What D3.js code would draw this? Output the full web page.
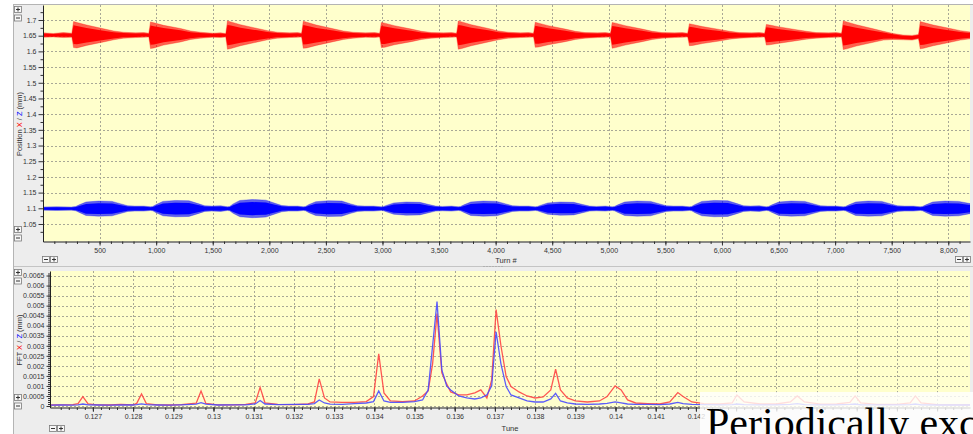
<!DOCTYPE html>
<html><head><meta charset="utf-8">
<script src="https://cdn.jsdelivr.net/npm/d3@7"></script>
<style>
html,body{margin:0;padding:0;background:#fff;}
svg{display:block;font-family:"Liberation Sans",Arial,sans-serif;}
</style></head><body>
<svg id="c" width="973" height="434"></svg>
<script>
// ---- Turn-by-turn position, envelope of the oscillation: [turn, upper, lower] (mm)
const posX = [
 [0,1.659,1.645],[90,1.657,1.646],[180,1.660,1.644],[255,1.658,1.645],
 [270,1.695,1.612],[300,1.692,1.611],[385,1.684,1.619],[535,1.672,1.630],[625,1.665,1.637],[710,1.661,1.642],[820,1.659,1.644],[890,1.660,1.645],[935,1.658,1.646],
 [950,1.694,1.609],[980,1.691,1.611],[1065,1.683,1.620],[1215,1.673,1.630],[1305,1.665,1.638],[1390,1.661,1.642],[1500,1.658,1.645],[1570,1.659,1.644],[1615,1.657,1.646],
 [1630,1.697,1.607],[1660,1.694,1.609],[1745,1.685,1.618],[1895,1.673,1.630],[1985,1.666,1.637],[2070,1.661,1.642],[2180,1.659,1.644],[2250,1.660,1.645],[2285,1.658,1.646],
 [2300,1.696,1.610],[2330,1.693,1.611],[2415,1.684,1.619],[2565,1.672,1.631],[2655,1.665,1.638],[2740,1.661,1.642],[2850,1.659,1.645],[2930,1.660,1.644],[2975,1.658,1.646],
 [2990,1.692,1.612],[3020,1.690,1.613],[3105,1.682,1.621],[3255,1.671,1.631],[3345,1.664,1.638],[3430,1.660,1.642],[3540,1.659,1.644],[3610,1.660,1.645],[3655,1.658,1.646],
 [3670,1.697,1.607],[3700,1.694,1.609],[3785,1.685,1.618],[3935,1.673,1.630],[4025,1.665,1.637],[4110,1.661,1.642],[4220,1.659,1.644],[4290,1.660,1.645],[4335,1.658,1.646],
 [4350,1.693,1.613],[4380,1.690,1.614],[4465,1.682,1.621],[4615,1.671,1.631],[4705,1.664,1.638],[4790,1.660,1.642],[4900,1.659,1.644],[4970,1.660,1.645],[5015,1.658,1.646],
 [5030,1.692,1.610],[5060,1.690,1.612],[5145,1.682,1.620],[5295,1.671,1.631],[5385,1.664,1.638],[5470,1.660,1.642],[5580,1.659,1.644],[5650,1.660,1.645],[5697,1.658,1.646],
 [5712,1.688,1.618],[5742,1.686,1.619],[5827,1.679,1.625],[5977,1.670,1.633],[6067,1.664,1.639],[6152,1.660,1.642],[6262,1.659,1.644],[6330,1.660,1.645],[6377,1.658,1.646],
 [6392,1.686,1.620],[6422,1.684,1.621],[6507,1.678,1.626],[6657,1.669,1.634],[6747,1.664,1.639],[6832,1.660,1.642],[6942,1.659,1.644],[7010,1.660,1.645],[7057,1.658,1.646],
 [7072,1.697,1.606],[7102,1.694,1.608],[7187,1.685,1.617],[7337,1.672,1.629],[7427,1.664,1.636],[7512,1.657,1.638],[7600,1.652,1.637],[7680,1.651,1.636],[7737,1.654,1.640],
 [7752,1.695,1.608],[7782,1.692,1.610],[7867,1.684,1.618],[8017,1.673,1.629],[8107,1.666,1.636],[8192,1.662,1.640]
];
const posZ = [
 [0,1.104,1.094],[120,1.105,1.093],[250,1.104,1.094],
 [290,1.106,1.092],[320,1.111,1.087],[380,1.120,1.077],[490,1.123,1.075],[610,1.122,1.076],[690,1.114,1.084],[750,1.108,1.090],[810,1.107,1.091],[890,1.107,1.091],[950,1.105,1.093],
 [970,1.106,1.092],[1000,1.112,1.086],[1060,1.122,1.076],[1170,1.125,1.073],[1290,1.124,1.074],[1370,1.115,1.083],[1430,1.108,1.090],[1490,1.107,1.091],[1570,1.108,1.090],[1630,1.105,1.093],
 [1650,1.106,1.092],[1680,1.114,1.084],[1740,1.125,1.073],[1850,1.128,1.070],[1970,1.126,1.072],[2050,1.116,1.082],[2110,1.109,1.089],[2170,1.107,1.091],[2250,1.107,1.091],[2300,1.105,1.093],
 [2320,1.106,1.092],[2350,1.112,1.086],[2410,1.121,1.077],[2520,1.124,1.074],[2640,1.123,1.075],[2720,1.114,1.084],[2780,1.108,1.090],[2840,1.107,1.091],[2920,1.107,1.091],[2990,1.105,1.093],
 [3010,1.106,1.092],[3040,1.110,1.088],[3100,1.117,1.081],[3210,1.120,1.078],[3330,1.119,1.079],[3410,1.112,1.086],[3470,1.107,1.091],[3530,1.106,1.092],[3610,1.107,1.091],[3670,1.105,1.093],
 [3690,1.106,1.092],[3720,1.111,1.087],[3780,1.120,1.077],[3890,1.123,1.075],[4010,1.122,1.076],[4090,1.114,1.084],[4150,1.108,1.090],[4210,1.107,1.091],[4290,1.107,1.091],[4350,1.105,1.093],
 [4370,1.106,1.092],[4400,1.110,1.088],[4460,1.117,1.081],[4570,1.120,1.078],[4690,1.119,1.079],[4770,1.112,1.086],[4830,1.107,1.091],[4890,1.106,1.092],[4970,1.107,1.091],[5030,1.105,1.093],
 [5050,1.106,1.092],[5080,1.111,1.087],[5140,1.120,1.077],[5250,1.123,1.075],[5370,1.122,1.076],[5450,1.114,1.084],[5510,1.108,1.090],[5570,1.107,1.091],[5650,1.107,1.091],[5712,1.105,1.093],
 [5732,1.106,1.092],[5762,1.112,1.086],[5822,1.122,1.076],[5932,1.125,1.073],[6052,1.124,1.074],[6132,1.115,1.083],[6192,1.108,1.090],[6252,1.107,1.091],[6330,1.108,1.090],[6392,1.105,1.093],
 [6412,1.106,1.092],[6442,1.111,1.087],[6502,1.120,1.077],[6612,1.123,1.075],[6732,1.122,1.076],[6812,1.114,1.084],[6872,1.108,1.090],[6932,1.107,1.091],[7010,1.107,1.091],[7072,1.105,1.093],
 [7092,1.106,1.092],[7122,1.111,1.087],[7182,1.120,1.077],[7292,1.123,1.075],[7412,1.122,1.076],[7492,1.114,1.084],[7552,1.108,1.090],[7612,1.107,1.091],[7690,1.107,1.091],[7752,1.105,1.093],
 [7772,1.106,1.092],[7802,1.111,1.087],[7862,1.120,1.077],[7972,1.123,1.075],[8092,1.122,1.076],[8192,1.115,1.083]
];
const turnRange = [0, 8192];
const positionRange = [0.9942, 1.7478];
const turnTicks = [500,1000,1500,2000,2500,3000,3500,4000,4500,5000,5500,6000,6500,7000,7500,8000];
const positionTicks = [1.05,1.1,1.15,1.2,1.25,1.3,1.35,1.4,1.45,1.5,1.55,1.6,1.65,1.7];

// ---- FFT of X and Z
const fftTune = [0.12593,0.1262,0.1265,0.12663,0.12675,0.12688,0.1271,0.1274,0.1277,0.1280,0.12809,0.12821,0.12833,0.1286,0.1289,0.1292,0.12957,0.12969,0.12981,0.1301,0.1305,0.1308,0.13104,0.13116,0.13128,0.1316,0.1320,0.13235,0.13251,0.13263,0.13276,0.1329,0.1332,0.1335,0.1338,0.13398,0.13411,0.13424,0.1344,0.1347,0.1350,0.1352,0.13534,0.13545,0.13556,0.13568,0.1358,0.1359,0.1361,0.1363,0.1365,0.13665,0.1368,0.13692,0.13703,0.13715,0.13728,0.1374,0.1376,0.1378,0.1380,0.1382,0.13839,0.13851,0.13863,0.1388,0.1390,0.1393,0.1396,0.13979,0.13999,0.14014,0.1403,0.1405,0.1408,0.1411,0.14135,0.14155,0.14168,0.1419,0.1422,0.1426,0.1429,0.14302,0.1432,0.1436,0.1440,0.14435,0.14452,0.1447,0.1451,0.1455,0.14583,0.14596,0.1461,0.1465,0.1470,0.14733,0.14746,0.1476,0.1480,0.14882];
const fftX = [0.5e-4,0.6e-4,0.7e-4,1.2e-4,4.7e-4,1.0e-4,0.6e-4,0.5e-4,0.8e-4,0.6e-4,1.3e-4,6.0e-4,1.2e-4,0.6e-4,0.5e-4,0.7e-4,1.4e-4,7.5e-4,1.3e-4,0.6e-4,0.6e-4,0.8e-4,1.6e-4,9.3e-4,1.6e-4,0.8e-4,0.7e-4,1.0e-4,2.0e-4,13.5e-4,4.0e-4,2.0e-4,1.8e-4,1.8e-4,2.2e-4,4.7e-4,26e-4,6.5e-4,2.5e-4,2.2e-4,2.5e-4,5.0e-4,7.5e-4,21e-4,46e-4,16.5e-4,11e-4,7e-4,5.5e-4,5.5e-4,6.5e-4,8e-4,4e-4,13e-4,48e-4,30e-4,14.7e-4,9.7e-4,7e-4,5e-4,4e-4,4.5e-4,8e-4,18.3e-4,8e-4,4e-4,2.5e-4,2e-4,2.5e-4,4.7e-4,10e-4,8e-4,3e-4,1.5e-4,1.2e-4,1e-4,2e-4,6.7e-4,4.7e-4,2e-4,1.2e-4,1e-4,1.5e-4,5.5e-4,2e-4,1e-4,1e-4,2e-4,5e-4,2e-4,0.9e-4,1e-4,1.8e-4,5e-4,1.5e-4,0.8e-4,0.8e-4,1.5e-4,5e-4,1.5e-4,0.7e-4,0.6e-4];
const fftZ = [0.4e-4,0.5e-4,0.4e-4,0.6e-4,1.0e-4,0.6e-4,0.5e-4,0.4e-4,0.6e-4,0.5e-4,0.7e-4,1.1e-4,0.7e-4,0.5e-4,0.4e-4,0.6e-4,0.9e-4,1.7e-4,0.9e-4,0.5e-4,0.6e-4,0.6e-4,1.0e-4,2.7e-4,1.0e-4,0.7e-4,0.8e-4,0.8e-4,1.2e-4,3.0e-4,1.5e-4,0.9e-4,0.8e-4,1.2e-4,1.5e-4,2.2e-4,7.5e-4,2.5e-4,1.8e-4,1.8e-4,2.2e-4,3.0e-4,8e-4,30e-4,52e-4,18e-4,10e-4,8e-4,5e-4,4e-4,3.5e-4,4e-4,5.5e-4,10e-4,37e-4,21e-4,9.7e-4,5.5e-4,4e-4,2.5e-4,2e-4,2e-4,3.5e-4,6.3e-4,2.5e-4,1.5e-4,1e-4,0.8e-4,1e-4,1.3e-4,2e-4,1.5e-4,1e-4,0.8e-4,0.8e-4,0.7e-4,1e-4,1.8e-4,1.2e-4,0.8e-4,0.7e-4,0.6e-4,0.7e-4,1e-4,0.7e-4,0.6e-4,0.6e-4,0.8e-4,1.2e-4,0.7e-4,0.6e-4,0.6e-4,0.8e-4,1e-4,0.6e-4,0.6e-4,0.6e-4,0.7e-4,1e-4,0.6e-4,0.5e-4,0.5e-4];
const tuneRange = [0.125933, 0.148818];
const fftRange = [-0.000075, 0.006725];
const tuneTicks = [0.127,0.128,0.129,0.13,0.131,0.132,0.133,0.134,0.135,0.136,0.137,0.138,0.139,0.14,0.141,0.142,0.143,0.144,0.145,0.146,0.147,0.148];
const tuneLabelled = [0.127,0.128,0.129,0.13,0.131,0.132,0.133,0.134,0.135,0.136,0.137,0.138,0.139,0.14,0.141,0.142];
const fftTicks = [0,0.0005,0.001,0.0015,0.002,0.0025,0.003,0.0035,0.004,0.0045,0.005,0.0055,0.006,0.0065];

const COLX = "#ff0000", COLZ = "#0000ff";
const svg = d3.select("#c");

// window background
svg.append("rect").attr("width",973).attr("height",434).attr("fill","#ffffff");
svg.append("rect").attr("x",13.5).attr("y",4.5).attr("width",962).attr("height",432)
  .attr("fill","#ededed").attr("stroke","#b4b4b4");
// splitter between the two panels
svg.append("line").attr("x1",14).attr("x2",973).attr("y1",266.5).attr("y2",266.5).attr("stroke","#c4c4c4");
svg.append("g").selectAll("circle").data(d3.range(7)).join("circle")
  .attr("cx",d=>484+d*3).attr("cy",266.5).attr("r",0.6).attr("fill","#999");

function button(x, y, sym){
  const g = svg.append("g");
  g.append("rect").attr("x",x+0.5).attr("y",y+0.5).attr("width",7).attr("height",6)
    .attr("fill","#f7f7f7").attr("stroke","#7a7a7a").attr("stroke-width",0.8);
  g.append("line").attr("x1",x+2).attr("x2",x+6).attr("y1",y+3.5).attr("y2",y+3.5).attr("stroke","#333");
  if (sym === "+") g.append("line").attr("x1",x+4).attr("x2",x+4).attr("y1",y+1.5).attr("y2",y+5.5).attr("stroke","#333");
}

function grid(g, xs, ys, xv, yv, box){
  g.append("g").selectAll("line").data(xv).join("line")
    .attr("x1",d=>Math.round(xs(d))+0.5).attr("x2",d=>Math.round(xs(d))+0.5)
    .attr("y1",box.t).attr("y2",box.b)
    .attr("stroke","#a8a896").attr("stroke-dasharray","2,2");
  g.append("g").selectAll("line").data(yv).join("line")
    .attr("y1",d=>Math.round(ys(d))+0.5).attr("y2",d=>Math.round(ys(d))+0.5)
    .attr("x1",box.l).attr("x2",box.r)
    .attr("stroke","#a8a896").attr("stroke-dasharray","2,2");
}

function styleAxis(g, fs){
  g.attr("font-family","Liberation Sans, Arial, sans-serif");
  g.select(".domain").attr("stroke","#222");
  g.selectAll(".tick line").attr("stroke","#333");
  g.selectAll(".tick text").attr("fill","#333").attr("font-size",fs);
}

function yTitle(cx, cy, lead){
  const t = svg.append("text").attr("transform",`translate(${cx},${cy}) rotate(-90)`)
    .attr("text-anchor","middle").attr("font-size",7.5).attr("fill","#333");
  t.append("tspan").text(lead + " ");
  t.append("tspan").attr("fill",COLX).text("X");
  t.append("tspan").text(" / ");
  t.append("tspan").attr("fill",COLZ).text("Z");
  t.append("tspan").text(" (mm)");
}

// ================= top panel: position vs turn =================
const A = {l:43, r:970, t:5, b:241.5};
const xTurn = d3.scaleLinear().domain(turnRange).range([A.l, A.r]);
const yPos = d3.scaleLinear().domain(positionRange).range([A.b, A.t]);

svg.append("clipPath").attr("id","clipA").append("rect")
  .attr("x",A.l).attr("y",A.t).attr("width",A.r-A.l).attr("height",A.b-A.t);
svg.append("rect").attr("x",A.l).attr("y",A.t).attr("width",A.r-A.l).attr("height",A.b-A.t)
  .attr("fill","#ffffcc");
const gA = svg.append("g").attr("clip-path","url(#clipA)");
grid(gA, xTurn, yPos, turnTicks, positionTicks, A);

// outer fringe of the oscillation drawn lighter, dense core solid
const envArea = d3.area().x(d=>xTurn(d[0])).y0(d=>yPos(d[2])).y1(d=>yPos(d[1]));
const coreArea = d3.area().x(d=>xTurn(d[0]))
  .y0(d=>yPos((d[1]+d[2])/2 - (d[1]-d[2])*0.36))
  .y1(d=>yPos((d[1]+d[2])/2 + (d[1]-d[2])*0.36));
[[posX, COLX], [posZ, COLZ]].forEach(([data, col]) => {
  gA.append("path").datum(data).attr("d",envArea).attr("fill",col).attr("fill-opacity",0.62)
    .attr("stroke",col).attr("stroke-width",0.6).attr("stroke-opacity",0.5);
  gA.append("path").datum(data).attr("d",coreArea).attr("fill",col);
});

const axTurnMinor = svg.append("g").attr("transform",`translate(0,${A.b})`)
  .call(d3.axisBottom(xTurn).tickValues(d3.range(100,8192,100)).tickFormat("").tickSize(2.5).tickSizeOuter(0));
axTurnMinor.select(".domain").remove(); axTurnMinor.selectAll("line").attr("stroke","#333");
const axTurn = svg.append("g").attr("transform",`translate(0,${A.b})`)
  .call(d3.axisBottom(xTurn).tickValues(turnTicks).tickFormat(d3.format(",")).tickSize(4).tickSizeOuter(0).tickPadding(3));
styleAxis(axTurn, 7);

const axPosMinor = svg.append("g").attr("transform",`translate(${A.l},0)`)
  .call(d3.axisLeft(yPos).tickValues(d3.range(1.025,1.74,0.05)).tickFormat("").tickSize(2.5).tickSizeOuter(0));
axPosMinor.select(".domain").remove(); axPosMinor.selectAll("line").attr("stroke","#333");
const axPos = svg.append("g").attr("transform",`translate(${A.l},0)`)
  .call(d3.axisLeft(yPos).tickValues(positionTicks).tickFormat(d=>String(+d.toFixed(2))).tickSize(4.5).tickSizeOuter(0).tickPadding(2));
styleAxis(axPos, 7);

svg.append("text").attr("x",506).attr("y",263).attr("text-anchor","middle")
  .attr("font-size",7.5).attr("fill","#333").text("Turn #");
yTitle(22, 124, "Position");

button(14,6,"+"); button(14,14.5,"-");
button(14,226,"+"); button(14,234.5,"-");
button(42,256,"-"); button(50,256,"+");
button(955,256,"-"); button(963,256,"+");

// ================= bottom panel: FFT vs tune =================
const B = {l:50, r:970, t:271, b:407.5};
const xTune = d3.scaleLinear().domain(tuneRange).range([B.l, B.r]);
const yFft = d3.scaleLinear().domain(fftRange).range([B.b, B.t]);

svg.append("clipPath").attr("id","clipB").append("rect")
  .attr("x",B.l).attr("y",B.t).attr("width",B.r-B.l).attr("height",B.b-B.t);
svg.append("rect").attr("x",B.l).attr("y",B.t).attr("width",B.r-B.l).attr("height",B.b-B.t)
  .attr("fill","#ffffcc");
const gB = svg.append("g").attr("clip-path","url(#clipB)");
grid(gB, xTune, yFft, tuneTicks, fftTicks, B);

const fftLine = vals => d3.line().x((d,i)=>xTune(fftTune[i])).y(d=>yFft(d))(vals);
gB.append("path").attr("d",fftLine(fftX)).attr("fill","none")
  .attr("stroke","#ff4545").attr("stroke-width",1.3).attr("stroke-opacity",0.9);
gB.append("path").attr("d",fftLine(fftZ)).attr("fill","none")
  .attr("stroke","#4a4aff").attr("stroke-width",1.3).attr("stroke-opacity",0.9);

const axTuneMinor = svg.append("g").attr("transform",`translate(0,${B.b})`)
  .call(d3.axisBottom(xTune).tickValues(d3.range(0.1262,0.1488,0.0002)).tickFormat("").tickSize(2.5).tickSizeOuter(0));
axTuneMinor.select(".domain").remove(); axTuneMinor.selectAll("line").attr("stroke","#333");
const axTuneAll = svg.append("g").attr("transform",`translate(0,${B.b})`)
  .call(d3.axisBottom(xTune).tickValues(tuneTicks).tickFormat("").tickSize(4).tickSizeOuter(0));
styleAxis(axTuneAll, 7);
const axTune = svg.append("g").attr("transform",`translate(0,${B.b})`)
  .call(d3.axisBottom(xTune).tickValues(tuneLabelled).tickFormat(d=>String(+d.toFixed(3))).tickSize(4).tickSizeOuter(0).tickPadding(3));
styleAxis(axTune, 7);
axTune.select(".domain").remove();

const axFftMinor = svg.append("g").attr("transform",`translate(${B.l},0)`)
  .call(d3.axisLeft(yFft).tickValues(d3.range(0.0001,0.0067,0.0001)).tickFormat("").tickSize(2).tickSizeOuter(0));
axFftMinor.select(".domain").remove(); axFftMinor.selectAll("line").attr("stroke","#333");
const axFft = svg.append("g").attr("transform",`translate(${B.l},0)`)
  .call(d3.axisLeft(yFft).tickValues(fftTicks).tickFormat(d=>String(+d.toFixed(4))).tickSize(3.5).tickSizeOuter(0).tickPadding(2));
styleAxis(axFft, 7);

svg.append("text").attr("x",510).attr("y",431).attr("text-anchor","middle")
  .attr("font-size",7.5).attr("fill","#333").text("Tune");
yTitle(22, 340, "FFT");

button(14,269,"+"); button(14,277.5,"-");
button(14,394,"+"); button(14,402.5,"-");
button(49,425,"-"); button(57,425,"+");

// caption strip laid over the lower right corner
svg.append("rect").attr("x",700).attr("y",392).attr("width",273).attr("height",42)
  .attr("fill","#ffffff").attr("fill-opacity",0.8);
svg.append("text").attr("x",706).attr("y",437)
  .attr("font-family","Liberation Serif, 'Times New Roman', serif")
  .attr("font-size",42).attr("fill","#000").text("Periodically exc");
</script></body></html>
